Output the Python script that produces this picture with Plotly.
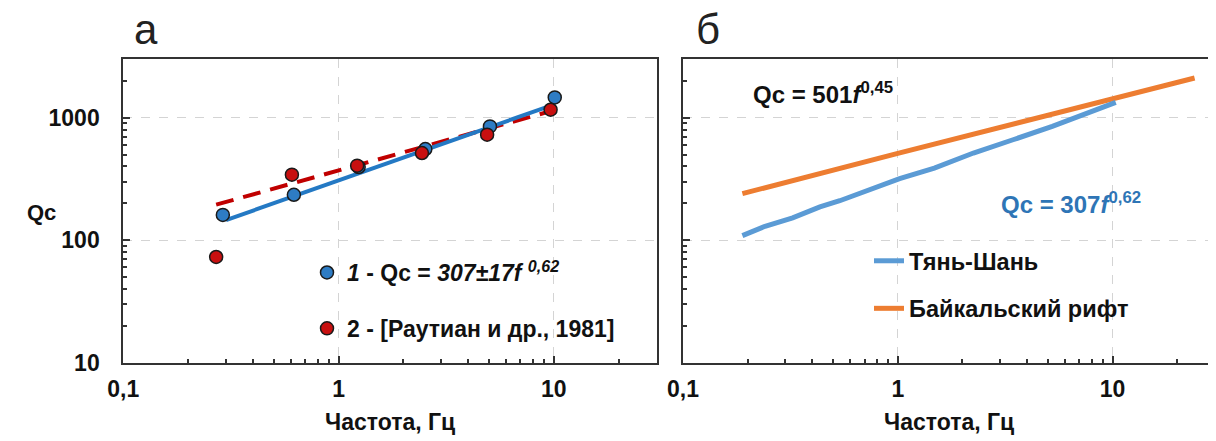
import plotly.graph_objects as go

# ---------------- data ----------------
# panel a: observed Qc values
f_obs1 = [0.29, 0.62, 1.24, 2.53, 5.05, 10.1]
q_obs1 = [161, 235, 396, 555, 849, 1465]
f_obs2 = [0.27, 0.607, 1.22, 2.44, 4.9, 9.66]
q_obs2 = [73, 343, 406, 515, 727, 1162]
# fit lines (panel a)
f_fit1 = [0.3, 10.0]
q_fit1 = [146, 1280]
f_fit2 = [0.27, 9.3]
q_fit2 = [195, 1110]

# panel b: regional curves
f_tsh = [0.189, 0.241, 0.324, 0.434, 0.537, 0.785, 1.02, 1.48, 2.25, 3.44, 5.24, 10.35]
q_tsh = [109, 130, 152, 187, 210, 267, 318, 388, 515, 661, 849, 1333]
f_bai = [0.189, 1.0, 24.1]
q_bai = [240, 512, 2109]

x_tickvals = [0.1, 1, 10]
x_ticktext = ["0,1", "1", "10"]
y_tickvals = [10, 100, 1000]
y_ticktext = ["10", "100", "1000"]
x_minor = [0.2, 0.3, 0.4, 0.5, 0.6, 0.7, 0.8, 0.9, 2, 3, 4, 5, 6, 7, 8, 9, 20]
y_minor = [20, 30, 40, 50, 60, 70, 80, 90, 200, 300, 400, 500, 600, 700, 800, 900, 2000]

NARROW = "Liberation Sans Narrow, Arial Narrow, Liberation Sans, Arial, sans-serif"
SANS = "Liberation Sans, Arial, sans-serif"

BLUE_M = "#2E7CC4"
RED_M = "#C81010"
BLUE_L = "#2479C4"
RED_L = "#C00000"
TSH = "#5B9BD5"
BAI = "#ED7D31"
EQ_BLUE = "#2E75B6"

fig = go.Figure()

# panel a
fig.add_trace(go.Scatter(x=f_fit2, y=q_fit2, mode="lines", showlegend=False,
                         line=dict(color=RED_L, width=4, dash="18px,10px"),
                         xaxis="x", yaxis="y"))
fig.add_trace(go.Scatter(x=f_fit1, y=q_fit1, mode="lines", showlegend=False,
                         line=dict(color=BLUE_L, width=4),
                         xaxis="x", yaxis="y"))
fig.add_trace(go.Scatter(x=f_obs1, y=q_obs1, mode="markers",
                         name="<i>1</i> - Qc = <i>307±17f</i> <sup><i>0,62</i></sup>",
                         marker=dict(color=BLUE_M, size=13, line=dict(color="#1a1a1a", width=1.5)),
                         legend="legend", legendgroup="a1", legendrank=1,
                         xaxis="x", yaxis="y"))
fig.add_trace(go.Scatter(x=f_obs2, y=q_obs2, mode="markers",
                         name="2 - [Раутиан и др., 1981]",
                         marker=dict(color=RED_M, size=13, line=dict(color="#1a1a1a", width=1.5)),
                         legend="legend", legendgroup="a2", legendrank=2,
                         xaxis="x", yaxis="y"))

# panel b
fig.add_trace(go.Scatter(x=f_bai, y=q_bai, mode="lines", name="Байкальский рифт",
                         line=dict(color=BAI, width=5),
                         legend="legend2", legendgroup="b2", legendrank=2,
                         xaxis="x2", yaxis="y2"))
fig.add_trace(go.Scatter(x=f_tsh, y=q_tsh, mode="lines", name="Тянь-Шань",
                         line=dict(color=TSH, width=5),
                         legend="legend2", legendgroup="b1", legendrank=1,
                         xaxis="x2", yaxis="y2"))

# page body adds an 8px offset; lay out in screen pixels and compensate
OFF = 8
W, H = 1216 - OFF, 441 - OFF
def px(x):
    return (x - OFF) / W
def py(y):
    return 1 - (y - OFF) / H

axis_common = dict(
    type="log", showline=True, mirror=True, linecolor="#333333", linewidth=2,
    showgrid=True, gridcolor="#d4d4d4", griddash="dash", gridwidth=1,
    ticks="inside", ticklen=7, tickwidth=1.5, tickcolor="#333333",
    zeroline=False, automargin=False,
    tickfont=dict(family=NARROW, size=23, color="#111111", weight="bold"),
)

xa = dict(axis_common, range=[-1, 1.477], tickvals=x_tickvals, ticktext=x_ticktext,
          ticklabelstandoff=5,
          minor=dict(tickvals=x_minor, ticks="inside", ticklen=4, tickcolor="#333333", showgrid=False))
ya = dict(axis_common, range=[1, 3.477], tickvals=y_tickvals, ticktext=y_ticktext,
          ticklabelstandoff=17,
          minor=dict(tickvals=y_minor, ticks="inside", ticklen=4, tickcolor="#333333", showgrid=False))

fig.update_layout(
    width=W, height=H,
    margin=dict(l=0, r=0, t=0, b=0, autoexpand=False),
    paper_bgcolor="white", plot_bgcolor="white",
    xaxis=dict(xa, domain=[px(123.3), px(656.5)], anchor="y"),
    yaxis=dict(ya, domain=[py(362.7), py(59.3)], anchor="x"),
    xaxis2=dict(xa, domain=[px(683), px(1215)], anchor="y2"),
    yaxis2=dict(ya, domain=[py(362.7), py(59.3)], anchor="x2", showticklabels=False),
    legend=dict(x=px(307), y=py(251), xanchor="left", yanchor="top",
                bgcolor="rgba(0,0,0,0)", tracegroupgap=23,
                font=dict(family=SANS, size=23, color="#111111", weight="bold")),
    legend2=dict(x=px(869), y=py(239), xanchor="left", yanchor="top",
                 bgcolor="rgba(0,0,0,0)", tracegroupgap=14,
                 font=dict(family=SANS, size=23.5, color="#111111", weight="bold")),
    showlegend=True,
)

def ann(text, x, y, font, xanchor="center"):
    return dict(text=text, x=px(x), y=py(y), xref="paper", yref="paper",
                xanchor=xanchor, yanchor="middle", showarrow=False, font=font)

ann_font = dict(family=NARROW, size=23, color="#111111", weight="bold")
annotations = [
    ann("а", 146, 30, dict(family=SANS, size=42, color="#222222")),
    ann("б", 708, 30, dict(family=SANS, size=42, color="#222222")),
    ann("Qc", 41, 212, dict(family=NARROW, size=22, color="#111111", weight="bold")),
    ann("Частота, Гц", 390, 422, ann_font),
    ann("Частота, Гц", 949, 422, ann_font),
    ann("Qc = 501<i>f</i><sup>0,45</sup>", 751, 93,
        dict(family=NARROW, size=24, color="#111111", weight="bold"), xanchor="left"),
    ann("Qc = 307<i>f</i><sup>0,62</sup>", 999, 203,
        dict(family=NARROW, size=24, color=EQ_BLUE, weight="bold"), xanchor="left"),
]
fig.update_layout(annotations=annotations)

fig.write_html("out.html")
